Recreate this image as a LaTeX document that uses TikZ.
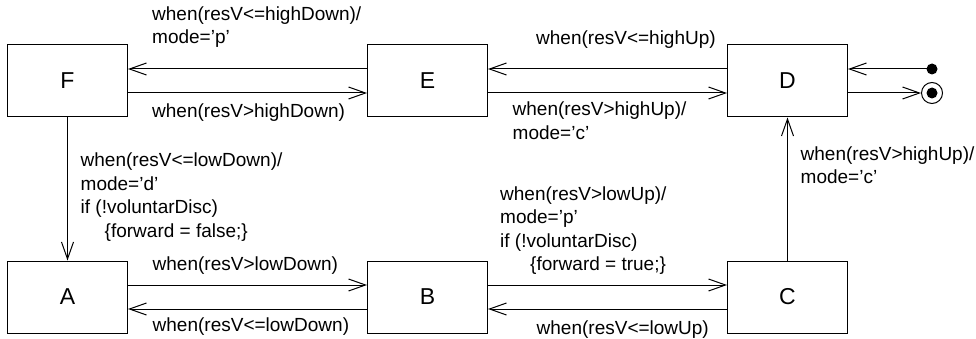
\documentclass[tikz,border=0pt]{standalone}
\usepackage{fontspec}
\setmainfont{Liberation Sans}
\usetikzlibrary{arrows.meta}
\begin{document}
\begin{tikzpicture}[x=1pt,y=-1pt,
  state/.style={draw,line width=1pt,rectangle,minimum width=120pt,minimum height=72pt,inner sep=0pt,font=\fontsize{23}{27}\selectfont},
  lbl/.style={anchor=base west,align=left,inner sep=0pt,font=\fontsize{19}{23.5}\selectfont},
  conn/.style={line width=1pt,-{Straight Barb[length=17pt,width=12pt,line width=1pt]}}
]
\useasboundingbox (0,0) rectangle (976,339);
\node[state] (F) at (67.5,81) {F};
\node[state] (E) at (427.5,81) {E};
\node[state] (D) at (787.5,81) {D};
\node[state] (A) at (67.5,297) {A};
\node[state] (B) at (427.5,297) {B};
\node[state] (C) at (787.5,297) {C};
\node[circle,fill,inner sep=0pt,minimum size=11pt] (init) at (932,69) {};
\node[circle,draw,line width=1pt,inner sep=0pt,minimum size=21pt] (fin) at (932,93) {};
\node[circle,fill,inner sep=0pt,minimum size=11pt] (finc) at (932,93) {};

\draw[conn] ([yshift=12pt]E.west) -- ([yshift=12pt]F.east);
\draw[conn] ([yshift=-12pt]F.east) -- ([yshift=-12pt]E.west);
\draw[conn] ([yshift=12pt]D.west) -- ([yshift=12pt]E.east);
\draw[conn] ([yshift=-12pt]E.east) -- ([yshift=-12pt]D.west);
\draw[conn] (init.center) -- (init -| D.east);
\draw[conn] ([yshift=-12pt]D.east) -- (fin.west);
\draw[conn] (F.south) -- (A.north);
\draw[conn] (C.north) -- (D.south);
\draw[conn] ([yshift=12pt]A.east) -- ([yshift=12pt]B.west);
\draw[conn] ([yshift=-12pt]B.west) -- ([yshift=-12pt]A.east);
\draw[conn] ([yshift=12pt]B.east) -- ([yshift=12pt]C.west);
\draw[conn] ([yshift=-12pt]C.west) -- ([yshift=-12pt]B.east);

\node[lbl] (l1) at (152,44) {when(resV<=highDown)/\\mode='p'};
\node[lbl] (l2) at (152,118) {when(resV>highDown)};
\node[lbl] (l3) at (536,45) {when(resV<=highUp)};
\node[lbl] (l4) at (512.5,139.5) {when(resV>highUp)/\\mode='c'};
\node[lbl] (l5) at (80.5,237) {when(resV<=lowDown)/\\mode='d'\\if (!voluntarDisc)\\\hspace*{24pt}\{forward = false;\}};
\node[lbl] (l6) at (500,270.5) {when(resV>lowUp)/\\mode='p'\\if (!voluntarDisc)\\\hspace*{30pt}\{forward = true;\}};
\node[lbl] (l7) at (536.5,334) {when(resV<=lowUp)};
\node[lbl] (l8) at (152.5,270.5) {when(resV>lowDown)};
\node[lbl] (l9) at (152.5,331) {when(resV<=lowDown)};
\node[lbl] (l10) at (800.5,183.5) {when(resV>highUp)/\\mode='c'};
\end{tikzpicture}
\end{document}
